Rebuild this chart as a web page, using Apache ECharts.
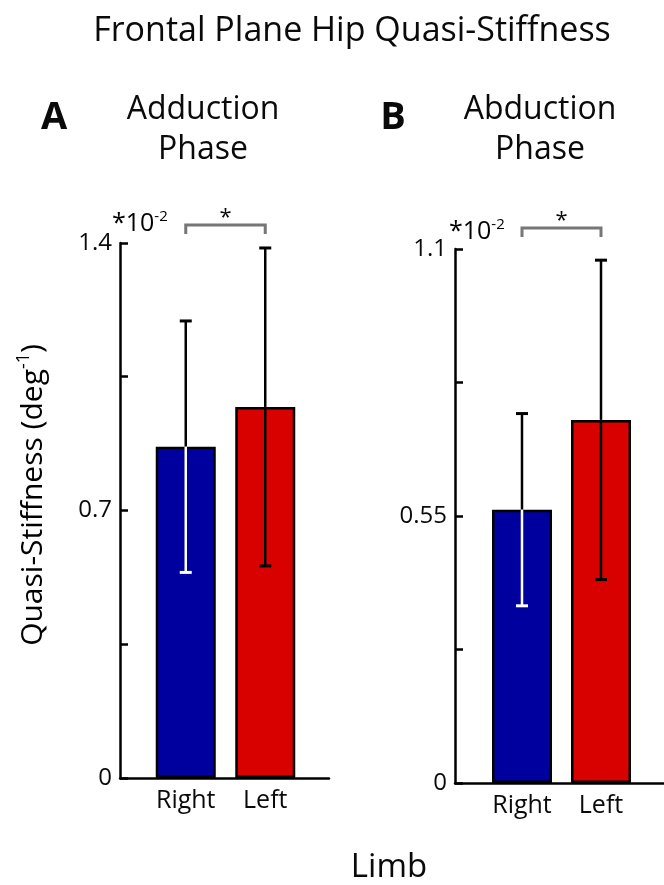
<!DOCTYPE html>
<html>
<head>
<meta charset="utf-8">
<title>Frontal Plane Hip Quasi-Stiffness</title>
<script src="https://cdn.jsdelivr.net/npm/echarts@6/dist/echarts.min.js"></script>
<style>
  html, body { margin: 0; padding: 0; background: #fff; }
  #main { width: 664px; height: 885px; }
</style>
</head>
<body>
<div id="main"></div>
<script>
// ---------- data (units *10^-2 deg^-1) ----------
var limbs = ['Right', 'Left'];

var adductionMean = [0.867, 0.971];
var adductionSD = [0.329, 0.416];

var abductionMean = [0.563, 0.748];
var abductionSD = [0.198, 0.329];

var adductionTicks = [0, 0.7, 1.4];
var abductionTicks = [0, 0.55, 1.1];

// ---------- styles ----------
var FONT = '"Open Sans", "Noto Sans", sans-serif';
var INK = '#0a0a0a';
var barColors = ['#00009f', '#d90000'];
var lowerInk = ['#ffffff', '#000000'];   // lower whisker colour per bar (white inside blue bar)

// every panel = a frame grid (axis lines, ticks) + a bar grid (bars, limb labels)
var panels = [
  {
    frame: { left: 120, top: 243, width: 209, height: 535 },
    bars: { left: 146, top: 243, width: 159, height: 535 },
    ticks: adductionTicks, mean: adductionMean, sd: adductionSD, bracketGap: 18
  },
  {
    frame: { left: 455, top: 249, width: 215, height: 534 },
    bars: { left: 482.5, top: 249, width: 158, height: 534 },
    ticks: abductionTicks, mean: abductionMean, sd: abductionSD, bracketGap: 21
  }
];

var grids = [], xAxes = [], yAxes = [], series = [];

panels.forEach(function (p, k) {
  var yMax = p.ticks[p.ticks.length - 1];
  var fi = grids.length;
  grids.push(p.frame);
  var bi = grids.length;
  grids.push(p.bars);

  // frame axes
  xAxes.push({
    gridIndex: fi, type: 'value', min: 0, max: 1,
    axisLine: { show: true, lineStyle: { color: '#000', width: 2.5 } },
    axisTick: { show: false }, axisLabel: { show: false }, splitLine: { show: false }
  });
  yAxes.push({
    gridIndex: fi, type: 'value', min: 0, max: yMax, interval: p.ticks[1] / 2,
    axisLine: { show: true, lineStyle: { color: '#000', width: 2.5 } },
    axisTick: { show: true, inside: true, length: 8, lineStyle: { color: '#000', width: 2.5 } },
    axisLabel: {
      margin: 8, fontSize: 24, fontFamily: FONT, color: INK,
      formatter: function (v) {
        for (var i = 0; i < p.ticks.length; i++) {
          if (Math.abs(p.ticks[i] - v) < 1e-6) return String(p.ticks[i]);
        }
        return '';
      }
    },
    splitLine: { show: false }
  });

  // bar axes
  xAxes.push({
    gridIndex: bi, type: 'category', data: limbs,
    axisLine: { show: false }, axisTick: { show: false },
    axisLabel: { interval: 0, hideOverlap: false, margin: 10, fontSize: 25, fontFamily: FONT, color: INK }
  });
  yAxes.push({ gridIndex: bi, type: 'value', min: 0, max: yMax, show: false });

  var axisIdx = xAxes.length - 1;

  series.push({
    type: 'bar', xAxisIndex: axisIdx, yAxisIndex: axisIdx,
    barWidth: 60, z: 3,
    itemStyle: { borderColor: '#000', borderWidth: 2.5 },
    data: p.mean.map(function (m, i) {
      return { value: m, itemStyle: { color: barColors[i] } };
    })
  });

  // error bars
  series.push({
    type: 'custom', xAxisIndex: axisIdx, yAxisIndex: axisIdx, z: 5,
    data: p.mean.map(function (m, i) { return [i, m, p.sd[i]]; }),
    renderItem: function (params, api) {
      var i = api.value(0), m = api.value(1), s = api.value(2);
      var c = api.coord([i, m]);
      var hi = api.coord([i, m + s]);
      var lo = api.coord([i, m - s]);
      var cap = 6;
      var low = lowerInk[i];
      return {
        type: 'group',
        children: [
          { type: 'line', shape: { x1: c[0], y1: c[1], x2: hi[0], y2: hi[1] }, style: { stroke: '#000', lineWidth: 2.5 } },
          { type: 'line', shape: { x1: hi[0] - cap, y1: hi[1], x2: hi[0] + cap, y2: hi[1] }, style: { stroke: '#000', lineWidth: 3 } },
          { type: 'line', shape: { x1: c[0], y1: c[1], x2: lo[0], y2: lo[1] }, style: { stroke: low, lineWidth: 2.5 } },
          { type: 'line', shape: { x1: lo[0] - cap, y1: lo[1], x2: lo[0] + cap, y2: lo[1] }, style: { stroke: low, lineWidth: 3 } }
        ]
      };
    }
  });

  // significance bracket between the two limbs
  series.push({
    type: 'custom', xAxisIndex: axisIdx, yAxisIndex: axisIdx, z: 5,
    data: [[0, 1]],
    renderItem: function (params, api) {
      var a = api.coord([api.value(0), yMax]);
      var b = api.coord([api.value(1), yMax]);
      var y = a[1] - p.bracketGap;
      return {
        type: 'group',
        children: [
          { type: 'polyline', shape: { points: [[a[0], y + 9], [a[0], y], [b[0], y], [b[0], y + 9]] },
            style: { stroke: '#777', lineWidth: 3, fill: null } },
          { type: 'text', x: (a[0] + b[0]) / 2, y: y + 4,
            style: { text: '*', fontSize: 22, fontFamily: FONT, fill: INK, align: 'center', verticalAlign: 'bottom' } }
        ]
      };
    }
  });
});

function label(txt, x, y, size, extra) {
  var st = { text: txt, x: 0, y: 0, fontSize: size, fontFamily: FONT, fill: INK, align: 'center', verticalAlign: 'middle' };
  for (var key in extra) st[key] = extra[key];
  return { type: 'text', x: x, y: y, style: st };
}

var sup = {
  a: { fontSize: 25, fontFamily: FONT, color: INK, lineHeight: 30 },
  s: { fontSize: 15, fontFamily: FONT, color: INK, lineHeight: 30, verticalAlign: 'top', padding: [0, 0, 12, 0] }
};

var graphics = [
  label('Frontal Plane Hip Quasi-Stiffness', 352, 31, 34),
  label('A', 54, 118, 38, { fontWeight: 'bold' }),
  label('Adduction', 203, 110, 32),
  label('Phase', 203, 150, 32),
  label('B', 393, 118, 38, { fontWeight: 'bold' }),
  label('Abduction', 540, 110, 32),
  label('Phase', 540, 150, 32),
  label('Limb', 389, 868, 33),
  { type: 'text', x: 112, y: 224, style: { text: '{a|*10}{s|-2}', rich: sup, align: 'left', verticalAlign: 'middle' } },
  { type: 'text', x: 449, y: 232, style: { text: '{a|*10}{s|-2}', rich: sup, align: 'left', verticalAlign: 'middle' } },
  {
    type: 'text', x: 33, y: 495, rotation: Math.PI / 2,
    style: {
      text: '{a|Quasi-Stiffness (deg}{s|-1}{a|)}', align: 'center', verticalAlign: 'middle',
      rich: {
        a: { fontSize: 30, fontFamily: FONT, color: INK, lineHeight: 36 },
        s: { fontSize: 18, fontFamily: FONT, color: INK, lineHeight: 36, verticalAlign: 'top', padding: [0, 0, 14, 0] }
      }
    }
  }
];

var myChart = echarts.init(document.getElementById('main'), null, { renderer: 'canvas' });
myChart.setOption({
  backgroundColor: '#fff',
  animation: false,
  grid: grids,
  xAxis: xAxes,
  yAxis: yAxes,
  series: series,
  graphic: graphics
});
</script>
</body>
</html>
